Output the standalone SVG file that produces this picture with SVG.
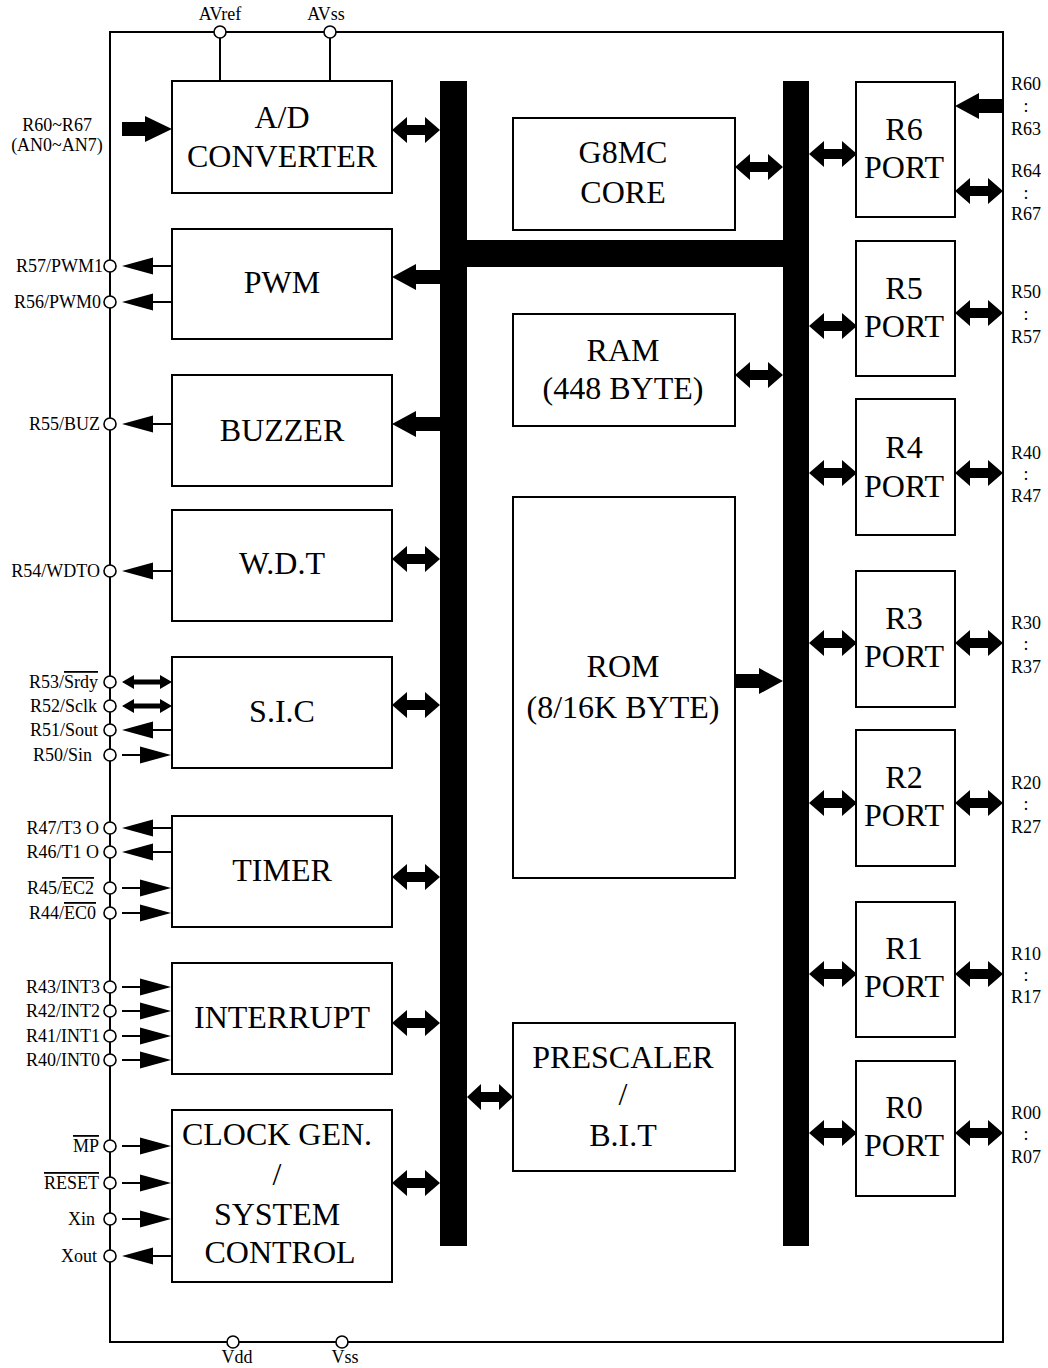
<svg xmlns="http://www.w3.org/2000/svg" xmlns:xlink="http://www.w3.org/1999/xlink" width="1048" height="1368" viewBox="0 0 1048 1368">
<style>
.box{fill:#fff;stroke:#000;stroke-width:2}
.big{font-family:"Liberation Serif","Times New Roman",serif;font-size:32px;text-anchor:middle;fill:#000}
.sm{font-family:"Liberation Serif","Times New Roman",serif;font-size:18px;fill:#000}
.end{text-anchor:end}
.mid{text-anchor:middle}
.pin{fill:#fff;stroke:#000;stroke-width:1.6}
.bus{fill:#000}
.wire{stroke:#000;stroke-width:2;fill:none}
.ol{text-decoration:overline}
</style>
<defs>
<path id="bi" d="M0,0 L15,-13 L15,-5 L33,-5 L33,-13 L48,0 L33,13 L33,5 L15,5 L15,13 Z" fill="#000"/>
<path id="fat" d="M0,-7 L24,-7 L24,-13 L48,0 L24,13 L24,7 L0,7 Z" fill="#000"/>
<path id="sbi" d="M0,0 L12,-7 L12,-2.5 L38,-2.5 L38,-7 L50,0 L38,7 L38,2.5 L12,2.5 L12,7 Z" fill="#000"/>
<g id="in"><line x1="0" y1="0" x2="20" y2="0" stroke="#000" stroke-width="2"/><path d="M18,-8.5 L49,0 L18,8.5 Z" fill="#000"/></g>
<g id="out"><line x1="29" y1="0" x2="50" y2="0" stroke="#000" stroke-width="2"/><path d="M0,0 L31,-8.5 L31,8.5 Z" fill="#000"/></g>
</defs>

<g id="chip">
<rect x="110" y="32" width="893" height="1310" fill="none" stroke="#000" stroke-width="2"/>
</g>

<g id="buses">
<rect class="bus" x="440" y="81" width="27" height="1165"/>
<rect class="bus" x="783" y="81" width="26" height="1165"/>
<rect class="bus" x="467" y="240" width="316" height="27"/>
</g>

<g id="connectors">
<line class="wire" x1="220" y1="38" x2="220" y2="81"/>
<line class="wire" x1="330" y1="38" x2="330" y2="81"/>
<path d="M122,122 L145,122 L145,116 L172,129 L145,142 L145,136 L122,136 Z" fill="#000"/>
<use xlink:href="#bi" x="392" y="130"/>
<use xlink:href="#fat" transform="translate(440,277) scale(-1,1)"/>
<use xlink:href="#fat" transform="translate(440,424) scale(-1,1)"/>
<use xlink:href="#bi" x="392" y="559"/>
<use xlink:href="#bi" x="392" y="705"/>
<use xlink:href="#bi" x="392" y="877"/>
<use xlink:href="#bi" x="392" y="1023"/>
<use xlink:href="#bi" x="392" y="1183"/>
<use xlink:href="#bi" x="735" y="167"/>
<use xlink:href="#bi" x="735" y="375"/>
<use xlink:href="#fat" x="735" y="681"/>
<path d="M467,1097 L481,1084 L481,1092 L499,1092 L499,1084 L513,1097 L499,1110 L499,1102 L481,1102 L481,1110 Z" fill="#000"/>
<use xlink:href="#bi" x="809" y="154"/>
<use xlink:href="#bi" x="809" y="326"/>
<use xlink:href="#bi" x="809" y="473"/>
<use xlink:href="#bi" x="809" y="643"/>
<use xlink:href="#bi" x="809" y="803"/>
<use xlink:href="#bi" x="809" y="974"/>
<use xlink:href="#bi" x="809" y="1133"/>
<use xlink:href="#fat" transform="translate(1003,106) scale(-1,1)"/>
<use xlink:href="#bi" x="955" y="191"/>
<use xlink:href="#bi" x="955" y="313"/>
<use xlink:href="#bi" x="955" y="473"/>
<use xlink:href="#bi" x="955" y="643"/>
<use xlink:href="#bi" x="955" y="803"/>
<use xlink:href="#bi" x="955" y="974"/>
<use xlink:href="#bi" x="955" y="1133"/>
<use xlink:href="#out" x="122" y="266"/>
<use xlink:href="#out" x="122" y="302"/>
<use xlink:href="#out" x="122" y="424"/>
<use xlink:href="#out" x="122" y="571"/>
<use xlink:href="#sbi" x="122" y="682"/>
<use xlink:href="#sbi" x="122" y="706"/>
<use xlink:href="#out" x="122" y="730"/>
<use xlink:href="#in" x="122" y="755"/>
<use xlink:href="#out" x="122" y="828"/>
<use xlink:href="#out" x="122" y="852"/>
<use xlink:href="#in" x="122" y="888"/>
<use xlink:href="#in" x="122" y="913"/>
<use xlink:href="#in" x="122" y="987"/>
<use xlink:href="#in" x="122" y="1011"/>
<use xlink:href="#in" x="122" y="1036"/>
<use xlink:href="#in" x="122" y="1060"/>
<use xlink:href="#in" x="122" y="1146"/>
<use xlink:href="#in" x="122" y="1183"/>
<use xlink:href="#in" x="122" y="1219"/>
<use xlink:href="#out" x="122" y="1256"/>
</g>

<g id="pins">
<circle class="pin" cx="220" cy="32" r="6"/>
<circle class="pin" cx="330" cy="32" r="6"/>
<circle class="pin" cx="233" cy="1342" r="6"/>
<circle class="pin" cx="342" cy="1342" r="6"/>
<circle class="pin" cx="110" cy="266" r="6"/>
<circle class="pin" cx="110" cy="302" r="6"/>
<circle class="pin" cx="110" cy="424" r="6"/>
<circle class="pin" cx="110" cy="571" r="6"/>
<circle class="pin" cx="110" cy="682" r="6"/>
<circle class="pin" cx="110" cy="706" r="6"/>
<circle class="pin" cx="110" cy="730" r="6"/>
<circle class="pin" cx="110" cy="755" r="6"/>
<circle class="pin" cx="110" cy="828" r="6"/>
<circle class="pin" cx="110" cy="852" r="6"/>
<circle class="pin" cx="110" cy="888" r="6"/>
<circle class="pin" cx="110" cy="913" r="6"/>
<circle class="pin" cx="110" cy="987" r="6"/>
<circle class="pin" cx="110" cy="1011" r="6"/>
<circle class="pin" cx="110" cy="1036" r="6"/>
<circle class="pin" cx="110" cy="1060" r="6"/>
<circle class="pin" cx="110" cy="1146" r="6"/>
<circle class="pin" cx="110" cy="1183" r="6"/>
<circle class="pin" cx="110" cy="1219" r="6"/>
<circle class="pin" cx="110" cy="1256" r="6"/>
</g>

<g id="pin-labels">
<text class="sm mid" x="220" y="20">AVref</text>
<text class="sm mid" x="326" y="20">AVss</text>
<text class="sm mid" x="237" y="1363">Vdd</text>
<text class="sm mid" x="345" y="1363">Vss</text>
<text class="sm mid" x="57" y="131">R60~R67</text>
<text class="sm mid" x="57" y="151">(AN0~AN7)</text>
<text class="sm end" x="103" y="272">R57/PWM1</text>
<text class="sm end" x="101" y="308">R56/PWM0</text>
<text class="sm end" x="100" y="430">R55/BUZ</text>
<text class="sm end" x="100" y="577">R54/WDTO</text>
<text class="sm end" x="98" y="688">R53/<tspan class="ol">Srdy</tspan></text>
<text class="sm end" x="97" y="712">R52/Sclk</text>
<text class="sm end" x="98" y="736">R51/Sout</text>
<text class="sm end" x="92" y="761">R50/Sin</text>
<text class="sm end" x="99" y="834">R47/T3 O</text>
<text class="sm end" x="99" y="858">R46/T1 O</text>
<text class="sm end" x="94" y="894">R45/<tspan class="ol">EC2</tspan></text>
<text class="sm end" x="96" y="919">R44/<tspan class="ol">EC0</tspan></text>
<text class="sm end" x="100" y="993">R43/INT3</text>
<text class="sm end" x="100" y="1017">R42/INT2</text>
<text class="sm end" x="100" y="1042">R41/INT1</text>
<text class="sm end" x="100" y="1066">R40/INT0</text>
<text class="sm end" x="99" y="1152"><tspan class="ol">MP</tspan></text>
<text class="sm end" x="99" y="1189"><tspan class="ol">RESET</tspan></text>
<text class="sm end" x="95" y="1225">Xin</text>
<text class="sm end" x="97" y="1262">Xout</text>
<text class="sm mid" x="1026" y="90">R60</text>
<text class="sm mid" x="1026" y="112">:</text>
<text class="sm mid" x="1026" y="135">R63</text>
<text class="sm mid" x="1026" y="177">R64</text>
<text class="sm mid" x="1026" y="199">:</text>
<text class="sm mid" x="1026" y="220">R67</text>
<text class="sm mid" x="1026" y="298">R50</text>
<text class="sm mid" x="1026" y="320">:</text>
<text class="sm mid" x="1026" y="343">R57</text>
<text class="sm mid" x="1026" y="459">R40</text>
<text class="sm mid" x="1026" y="480">:</text>
<text class="sm mid" x="1026" y="502">R47</text>
<text class="sm mid" x="1026" y="629">R30</text>
<text class="sm mid" x="1026" y="650">:</text>
<text class="sm mid" x="1026" y="673">R37</text>
<text class="sm mid" x="1026" y="789">R20</text>
<text class="sm mid" x="1026" y="810">:</text>
<text class="sm mid" x="1026" y="833">R27</text>
<text class="sm mid" x="1026" y="960">R10</text>
<text class="sm mid" x="1026" y="981">:</text>
<text class="sm mid" x="1026" y="1003">R17</text>
<text class="sm mid" x="1026" y="1119">R00</text>
<text class="sm mid" x="1026" y="1140">:</text>
<text class="sm mid" x="1026" y="1163">R07</text>
</g>

<g id="ad"><rect class="box" x="172" y="81" width="220" height="112"/><text class="big" x="282" y="128">A/D</text><text class="big" x="282" y="167">CONVERTER</text></g>
<g id="pwm"><rect class="box" x="172" y="229" width="220" height="110"/><text class="big" x="282" y="293">PWM</text></g>
<g id="buzzer"><rect class="box" x="172" y="375" width="220" height="111"/><text class="big" x="282" y="441">BUZZER</text></g>
<g id="wdt"><rect class="box" x="172" y="510" width="220" height="111"/><text class="big" x="282" y="574">W.D.T</text></g>
<g id="sic"><rect class="box" x="172" y="657" width="220" height="111"/><text class="big" x="282" y="722">S.I.C</text></g>
<g id="timer"><rect class="box" x="172" y="816" width="220" height="111"/><text class="big" x="282" y="881">TIMER</text></g>
<g id="interrupt"><rect class="box" x="172" y="963" width="220" height="111"/><text class="big" x="282" y="1028">INTERRUPT</text></g>
<g id="clock"><rect class="box" x="172" y="1110" width="220" height="172"/><text class="big" x="277" y="1145">CLOCK GEN.</text><text class="big" x="277" y="1185">/</text><text class="big" x="277" y="1225">SYSTEM</text><text class="big" x="280" y="1263">CONTROL</text></g>

<g id="core"><rect class="box" x="513" y="118" width="222" height="112"/><text class="big" x="623" y="163">G8MC</text><text class="big" x="623" y="203">CORE</text></g>
<g id="ram"><rect class="box" x="513" y="314" width="222" height="112"/><text class="big" x="623" y="361">RAM</text><text class="big" x="623" y="399">(448 BYTE)</text></g>
<g id="rom"><rect class="box" x="513" y="497" width="222" height="381"/><text class="big" x="623" y="677">ROM</text><text class="big" x="623" y="718">(8/16K BYTE)</text></g>
<g id="prescaler"><rect class="box" x="513" y="1023" width="222" height="148"/><text class="big" x="623" y="1068">PRESCALER</text><text class="big" x="623" y="1105">/</text><text class="big" x="623" y="1146">B.I.T</text></g>

<g id="r6"><rect class="box" x="856" y="82" width="99" height="135"/><text class="big" x="904" y="140">R6</text><text class="big" x="904" y="178">PORT</text></g>
<g id="r5"><rect class="box" x="856" y="241" width="99" height="135"/><text class="big" x="904" y="299">R5</text><text class="big" x="904" y="337">PORT</text></g>
<g id="r4"><rect class="box" x="856" y="399" width="99" height="136"/><text class="big" x="904" y="458">R4</text><text class="big" x="904" y="497">PORT</text></g>
<g id="r3"><rect class="box" x="856" y="571" width="99" height="136"/><text class="big" x="904" y="629">R3</text><text class="big" x="904" y="667">PORT</text></g>
<g id="r2"><rect class="box" x="856" y="730" width="99" height="136"/><text class="big" x="904" y="788">R2</text><text class="big" x="904" y="826">PORT</text></g>
<g id="r1"><rect class="box" x="856" y="902" width="99" height="135"/><text class="big" x="904" y="959">R1</text><text class="big" x="904" y="997">PORT</text></g>
<g id="r0"><rect class="box" x="856" y="1061" width="99" height="135"/><text class="big" x="904" y="1118">R0</text><text class="big" x="904" y="1156">PORT</text></g>
</svg>
